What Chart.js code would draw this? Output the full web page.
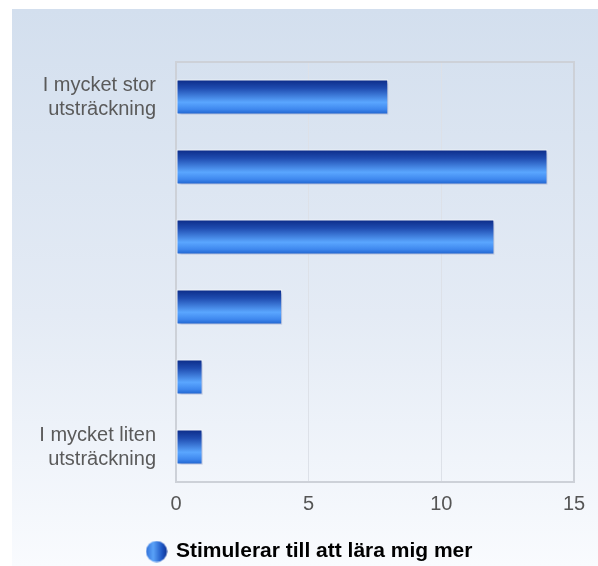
<!DOCTYPE html>
<html>
<head>
<meta charset="utf-8">
<script src="https://cdn.jsdelivr.net/npm/chart.js@4/dist/chart.umd.min.js"></script>
<style>
  html, body { margin: 0; padding: 0; background: #fff; }
  #panel {
    position: absolute; left: 12px; top: 9px; width: 586px; height: 557px;
    background: linear-gradient(to bottom, #d3dfee 0%, #e4ebf5 55%, #f9fbfe 100%);
  }
</style>
</head>
<body>
<div id="panel"><canvas id="chart" width="586" height="557"></canvas></div>
<script>
// kategorier uppifrån och ned
const kategorier = [
  ['I mycket stor', 'utsträckning'], '', '', '', '', ['I mycket liten', 'utsträckning']
];
const antal = [8, 14, 12, 4, 1, 1];
const serieNamn = 'Stimulerar till att lära mig mer';
const xTicks = [0, 5, 10, 15];

const FONT = '"Liberation Sans", Arial, sans-serif';

// blå gradient för staplarna
function stapelFarg(c) {
  const chart = c.chart;
  const area = chart.chartArea;
  if (!area || !chart.scales.y) return '#2a6ad8';
  const y = chart.scales.y.getPixelForValue(c.dataIndex);
  const h = (area.bottom - area.top) / kategorier.length * 0.5;
  const g = chart.ctx.createLinearGradient(0, y - h / 2, 0, y + h / 2);
  g.addColorStop(0, '#0b2a86');
  g.addColorStop(0.25, '#1f4cb0');
  g.addColorStop(0.65, '#5aa6ff');
  g.addColorStop(0.85, '#3f88ee');
  g.addColorStop(1, '#1b5fcb');
  return g;
}

// legendsymbol: rund blå knapp
const symbol = document.createElement('canvas');
symbol.width = 22; symbol.height = 22;
(() => {
  const s = symbol.getContext('2d');
  const g = s.createLinearGradient(0, 0, 22, 0);
  g.addColorStop(0, '#2f6fd8');
  g.addColorStop(0.35, '#5aa2f8');
  g.addColorStop(0.75, '#1d56c4');
  g.addColorStop(1, '#0c2f8e');
  s.fillStyle = g;
  s.beginPath(); s.arc(11, 11, 10.5, 0, Math.PI * 2); s.fill();
})();

const ramPlugin = {
  id: 'ram',
  afterLayout(chart) {
    // legenden centreras under hela panelen, inte bara plotytan
    if (chart.legend) {
      chart.legend.left += 17;
      chart.legend.right += 17;
    }
  },
  beforeDatasetsDraw(chart) {
    const { ctx, chartArea: a } = chart;
    ctx.save();
    ctx.strokeStyle = '#cdd1d8';
    ctx.lineWidth = 2;
    ctx.strokeRect(a.left, a.top, a.right - a.left, a.bottom - a.top);
    ctx.restore();
    ctx.save();
    ctx.shadowColor = 'rgba(20, 40, 120, 0.25)';
    ctx.shadowOffsetX = 2;
    ctx.shadowOffsetY = 2;
    ctx.shadowBlur = 2;
  },
  afterDatasetsDraw(chart) {
    chart.ctx.restore();
  }
};

new Chart(document.getElementById('chart'), {
  type: 'bar',
  data: {
    labels: kategorier,
    datasets: [{
      label: serieNamn,
      data: antal,
      backgroundColor: stapelFarg,
      borderColor: 'rgba(255,255,255,0.95)',
      borderWidth: 1,
      borderSkipped: false,
      barPercentage: 0.5,
      categoryPercentage: 1
    }]
  },
  options: {
    indexAxis: 'y',
    responsive: false,
    animation: false,
    layout: { padding: { top: 53, right: 24, left: 0, bottom: -6 } },
    scales: {
      x: {
        min: 0, max: 15,
        afterBuildTicks: s => { s.ticks = xTicks.map(v => ({ value: v })); },
        afterFit: s => { s.height = 53; },
        grid: { color: '#dde1e8', lineWidth: 1, drawTicks: false },
        border: { display: false },
        ticks: { padding: 10, color: '#555', font: { family: FONT, size: 20 } }
      },
      y: {
        afterFit: s => { s.width = 164; },
        grid: { display: false, drawTicks: false },
        border: { display: false },
        ticks: { padding: 20, color: '#5a5a5a', font: { family: FONT, size: 20 } }
      }
    },
    plugins: {
      tooltip: { enabled: false },
      legend: {
        position: 'bottom',
        labels: {
          usePointStyle: true,
          pointStyleWidth: 18,
          padding: 6,
          color: '#222',
          font: { family: FONT, size: 21, weight: 'bold' },
          generateLabels: () => [{
            text: serieNamn, pointStyle: symbol, fillStyle: '#2a6ad8',
            strokeStyle: 'transparent', lineWidth: 0, datasetIndex: 0
          }]
        }
      }
    }
  },
  plugins: [ramPlugin]
});
</script>
</body>
</html>
